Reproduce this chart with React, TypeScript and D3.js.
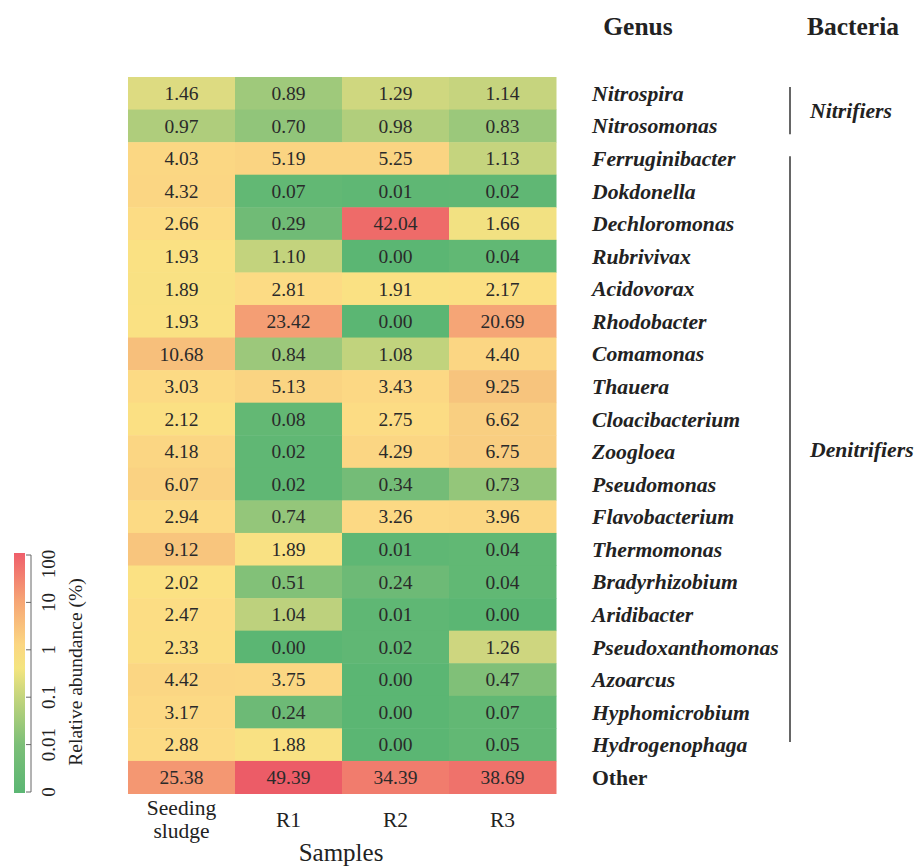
import React from "react";
import * as d3 from "d3";

// Samples (columns) and genera (rows) of the heatmap
const samples = ["Seeding sludge", "R1", "R2", "R3"];
const genera = [
  "Nitrospira", "Nitrosomonas", "Ferruginibacter", "Dokdonella", "Dechloromonas",
  "Rubrivivax", "Acidovorax", "Rhodobacter", "Comamonas", "Thauera",
  "Cloacibacterium", "Zoogloea", "Pseudomonas", "Flavobacterium", "Thermomonas",
  "Bradyrhizobium", "Aridibacter", "Pseudoxanthomonas", "Azoarcus", "Hyphomicrobium",
  "Hydrogenophaga", "Other",
];

// Relative abundance (%) per sample, in the order of `genera`
const seedingSludge = [1.46, 0.97, 4.03, 4.32, 2.66, 1.93, 1.89, 1.93, 10.68, 3.03, 2.12, 4.18, 6.07, 2.94, 9.12, 2.02, 2.47, 2.33, 4.42, 3.17, 2.88, 25.38];
const r1 = [0.89, 0.70, 5.19, 0.07, 0.29, 1.10, 2.81, 23.42, 0.84, 5.13, 0.08, 0.02, 0.02, 0.74, 1.89, 0.51, 1.04, 0.00, 3.75, 0.24, 1.88, 49.39];
const r2 = [1.29, 0.98, 5.25, 0.01, 42.04, 0.00, 1.91, 0.00, 1.08, 3.43, 2.75, 4.29, 0.34, 3.26, 0.01, 0.24, 0.01, 0.02, 0.00, 0.00, 0.00, 34.39];
const r3 = [1.14, 0.83, 1.13, 0.02, 1.66, 0.04, 2.17, 20.69, 4.40, 9.25, 6.62, 6.75, 0.73, 3.96, 0.04, 0.04, 0.00, 1.26, 0.47, 0.07, 0.05, 38.69];
const columns = [seedingSludge, r1, r2, r3];

// Functional groups on the right
const groups = [
  { name: "Nitrifiers", from: "Nitrospira", to: "Nitrosomonas" },
  { name: "Denitrifiers", from: "Ferruginibacter", to: "Hydrogenophaga" },
];

// Colour bar ticks
const legendTicks = ["0", "0.01", "0.1", "1", "10", "100"];

// Colour ramp over log10 abundance
const colorStops: [number, string][] = [
  [0.001, "#5bb673"],
  [0.1, "#63b874"],
  [0.3, "#70bb76"],
  [0.6, "#88c379"],
  [0.9, "#a0c97b"],
  [1.05, "#bfd27d"],
  [1.3, "#d0d77f"],
  [1.5, "#e0dc81"],
  [1.7, "#f6e282"],
  [2.0, "#fbe183"],
  [3.0, "#fcda84"],
  [6.0, "#fad282"],
  [10, "#f7c27c"],
  [22, "#f5a375"],
  [40, "#ef6f6a"],
  [50, "#ec5b67"],
];
const colorScale = d3
  .scaleLinear<string>()
  .domain(colorStops.map((s) => Math.log10(s[0])))
  .range(colorStops.map((s) => s[1]))
  .interpolate(d3.interpolateRgb)
  .clamp(true);
const cellColor = (v: number) => colorScale(Math.log10(Math.max(v, 0.001)));

const W = 916;
const H = 868;
const serif = "Liberation Serif";

export default function App() {
  const x = d3.scaleBand<string>().domain(samples).range([128, 556]);
  const y = d3.scaleBand<string>().domain(genera).range([77, 793.5]);

  const legendY = d3.scalePoint<string>().domain(legendTicks).range([792, 555]);

  const gradStops = [
    [0, "#5bb673"],
    [0.2, "#7cbf78"],
    [0.4, "#c4d57d"],
    [0.52, "#f4e580"],
    [0.62, "#fbd682"],
    [0.8, "#f6a575"],
    [1, "#ef5e6b"],
  ];

  // bracket trims (top, bottom) for each group line
  const trims = [
    [10, 8],
    [14, 19],
  ];

  return (
    <svg
      width={W}
      height={H}
      viewBox={`0 0 ${W} ${H}`}
      fontFamily={serif}
      style={{ position: "absolute", left: 0, top: 0 }}
    >
      <rect width={W} height={H} fill="#fff" />
      <defs>
        <linearGradient id="abundanceGrad" x1="0" y1="1" x2="0" y2="0">
          {gradStops.map(([o, c]) => (
            <stop key={String(o)} offset={Number(o)} stopColor={String(c)} />
          ))}
        </linearGradient>
      </defs>

      {/* Heatmap cells */}
      {columns.map((col, ci) =>
        col.map((v, ri) => (
          <g key={`${ci}-${ri}`}>
            <rect
              x={x(samples[ci])}
              y={y(genera[ri])}
              width={x.bandwidth() + 0.5}
              height={y.bandwidth() + 0.5}
              fill={cellColor(v)}
            />
            <text
              x={(x(samples[ci]) as number) + x.bandwidth() / 2}
              y={(y(genera[ri]) as number) + y.bandwidth() / 2}
              dy="0.35em"
              textAnchor="middle"
              fontFamily={serif}
              fontSize={19.5}
              fill="#2a2a2a"
            >
              {v.toFixed(2)}
            </text>
          </g>
        ))
      )}

      {/* Sample labels */}
      {samples.map((s) => {
        const cx = (x(s) as number) + x.bandwidth() / 2;
        const parts = s.split(" ");
        if (parts.length > 1) {
          return (
            <text key={s} x={cx} textAnchor="middle" fontFamily={serif} fontSize={21.5} fill="#222">
              <tspan x={cx} y={815}>{parts[0]}</tspan>
              <tspan x={cx} y={838}>{parts[1]}</tspan>
            </text>
          );
        }
        return (
          <text key={s} x={cx} y={827} textAnchor="middle" fontFamily={serif} fontSize={21.5} fill="#222">
            {s}
          </text>
        );
      })}
      <text x={341} y={861} textAnchor="middle" fontFamily={serif} fontSize={25} fill="#222">
        Samples
      </text>

      {/* Genus labels */}
      {genera.map((g) => (
        <text
          key={g}
          x={592}
          y={(y(g) as number) + y.bandwidth() / 2}
          dy="0.35em"
          fontFamily={serif}
          fontSize={21.7}
          fontWeight="bold"
          fontStyle={g === "Other" ? "normal" : "italic"}
          fill="#222"
        >
          {g}
        </text>
      ))}

      {/* Column headers */}
      <text x={638} y={35} textAnchor="middle" fontFamily={serif} fontSize={25.5} fontWeight="bold" fill="#222">
        Genus
      </text>
      <text x={853} y={35} textAnchor="middle" fontFamily={serif} fontSize={25.5} fontWeight="bold" fill="#222">
        Bacteria
      </text>

      {/* Functional group brackets */}
      {groups.map((g, gi) => {
        const y0 = (y(g.from) as number) + trims[gi][0];
        const y1 = (y(g.to) as number) + y.bandwidth() - trims[gi][1];
        return (
          <g key={g.name}>
            <line x1={790} x2={790} y1={y0} y2={y1} stroke="#333" strokeWidth={1.5} />
            <text
              x={810}
              y={(y0 + y1) / 2}
              dy="0.35em"
              fontFamily={serif}
              fontSize={21.7}
              fontWeight="bold"
              fontStyle="italic"
              fill="#222"
            >
              {g.name}
            </text>
          </g>
        );
      })}

      {/* Colour bar legend */}
      <rect x={14} y={553} width={11} height={240} fill="url(#abundanceGrad)" />
      <line x1={31} x2={31} y1={555} y2={792} stroke="#666" strokeWidth={1} />
      {legendTicks.map((t, i) => {
        const ty = legendY(t) as number;
        // keep the top label inside the bar's extent
        const ly = i === legendTicks.length - 1 ? ty + 9 : ty;
        return (
          <g key={t}>
            <line x1={26} x2={31} y1={ty} y2={ty} stroke="#666" strokeWidth={1} />
            <text
              transform={`translate(48,${ly}) rotate(-90)`}
              textAnchor="middle"
              dy="0.35em"
              fontFamily={serif}
              fontSize={19}
              fill="#222"
            >
              {t}
            </text>
          </g>
        );
      })}
      <text
        transform="translate(75,672) rotate(-90)"
        textAnchor="middle"
        dy="0.35em"
        fontFamily={serif}
        fontSize={19.5}
        fill="#222"
      >
        Relative abundance (%)
      </text>
    </svg>
  );
}
